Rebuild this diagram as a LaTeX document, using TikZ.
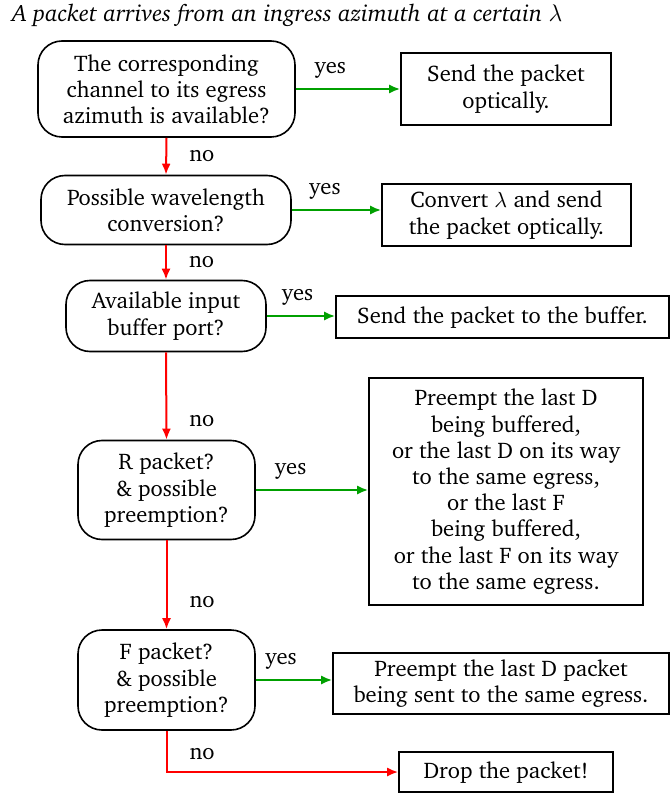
\documentclass[tikz,border=0pt]{standalone}
\usepackage[T1]{fontenc}
\usepackage{charter}
\usetikzlibrary{arrows.meta}
\definecolor{ygreen}{RGB}{0,160,0}
\definecolor{nred}{RGB}{255,0,0}
\tikzset{
  decision/.style={draw, line width=0.8pt, rounded corners=12pt, align=center, inner sep=0pt},
  action/.style={draw, line width=0.8pt, align=center, inner sep=0pt},
  yesarrow/.style={draw=ygreen, line width=1pt, -{Latex[length=5.5pt,width=4.5pt]}},
  noarrow/.style={draw=nred, line width=1pt, -{Latex[length=5.5pt,width=4.5pt]}},
  lbl/.style={text=black, inner sep=1pt},
}
\begin{document}
\begin{tikzpicture}[x=0.5pt,y=-0.5pt,font=\fontsize{11.3}{13.1}\selectfont]
\useasboundingbox (0,0) rectangle (670,796);
\node[anchor=west, inner sep=0pt, font=\fontsize{11.8}{13}\selectfont\itshape] (title) at (12,15) {A packet arrives from an ingress azimuth at a certain $\lambda$};

\node[decision, minimum width=128.5pt, minimum height=48pt] (b1) at (166.5,89) {The corresponding\\channel to its egress\\azimuth is available?};
\node[action, minimum width=105pt, minimum height=36pt] (r1) at (506,89) {Send the packet\\optically.};

\node[decision, minimum width=125pt, minimum height=34.5pt] (b2) at (166,210) {Possible wavelength\\conversion?};
\node[action, minimum width=124.5pt, minimum height=31pt] (r2) at (506.5,215) {Convert $\lambda$ and send\\the packet optically.};

\node[decision, minimum width=100pt, minimum height=35.5pt] (b3) at (166,316) {Available input\\buffer port?};
\node[action, minimum width=166.5pt, minimum height=21pt] (r3) at (502.5,317) {Send the packet to the buffer.};

\node[decision, minimum width=88.5pt, minimum height=49.5pt] (b4) at (166.5,490) {R packet?\\\& possible\\preemption?};
\node[action, minimum width=137pt, minimum height=113.5pt] (r4) at (506,491.5) {Preempt the last D\\being buffered,\\or the last D on its way\\to the same egress,\\or the last F\\being buffered,\\or the last F on its way\\to the same egress.};

\node[decision, minimum width=88.5pt, minimum height=50pt] (b5) at (166.5,680) {F packet?\\\& possible\\preemption?};
\node[action, minimum width=168pt, minimum height=30.5pt] (r5) at (501,683.5) {Preempt the last D packet\\being sent to the same egress.};

\node[action, minimum width=107pt, minimum height=20pt] (r6) at (506,772) {Drop the packet!};

% yes connectors
\draw[yesarrow] (b1.east) -- (b1.east -| r1.west) node[lbl, pos=0.33, above=4pt] {yes};
\draw[yesarrow] (b2.east) -- (b2.east -| r2.west) node[lbl, pos=0.37, above=4pt] {yes};
\draw[yesarrow] (b3.east) -- (b3.east -| r3.west) node[lbl, pos=0.45, above=4pt] {yes};
\draw[yesarrow] (b4.east) -- (b4.east -| r4.west) node[lbl, pos=0.31, above=4pt] {yes};
\draw[yesarrow] (b5.east) -- (b5.east -| r5.west) node[lbl, pos=0.33, above=4pt] {yes};

% no connectors
\draw[noarrow] (b1.south) -- (b2.north) node[lbl, midway, right=10pt] {no};
\draw[noarrow] (b2.south) -- (b3.north) node[lbl, midway, right=10pt] {no};
\draw[noarrow] (b3.south) -- (b4.north) node[lbl, pos=0.79, right=10pt] {no};
\draw[noarrow] (b4.south) -- (b5.north) node[lbl, pos=0.69, right=10pt] {no};
\draw[noarrow] (b5.south) |- (r6.west) node[lbl, pos=0.28, right=10pt] {no};
\end{tikzpicture}
\end{document}
